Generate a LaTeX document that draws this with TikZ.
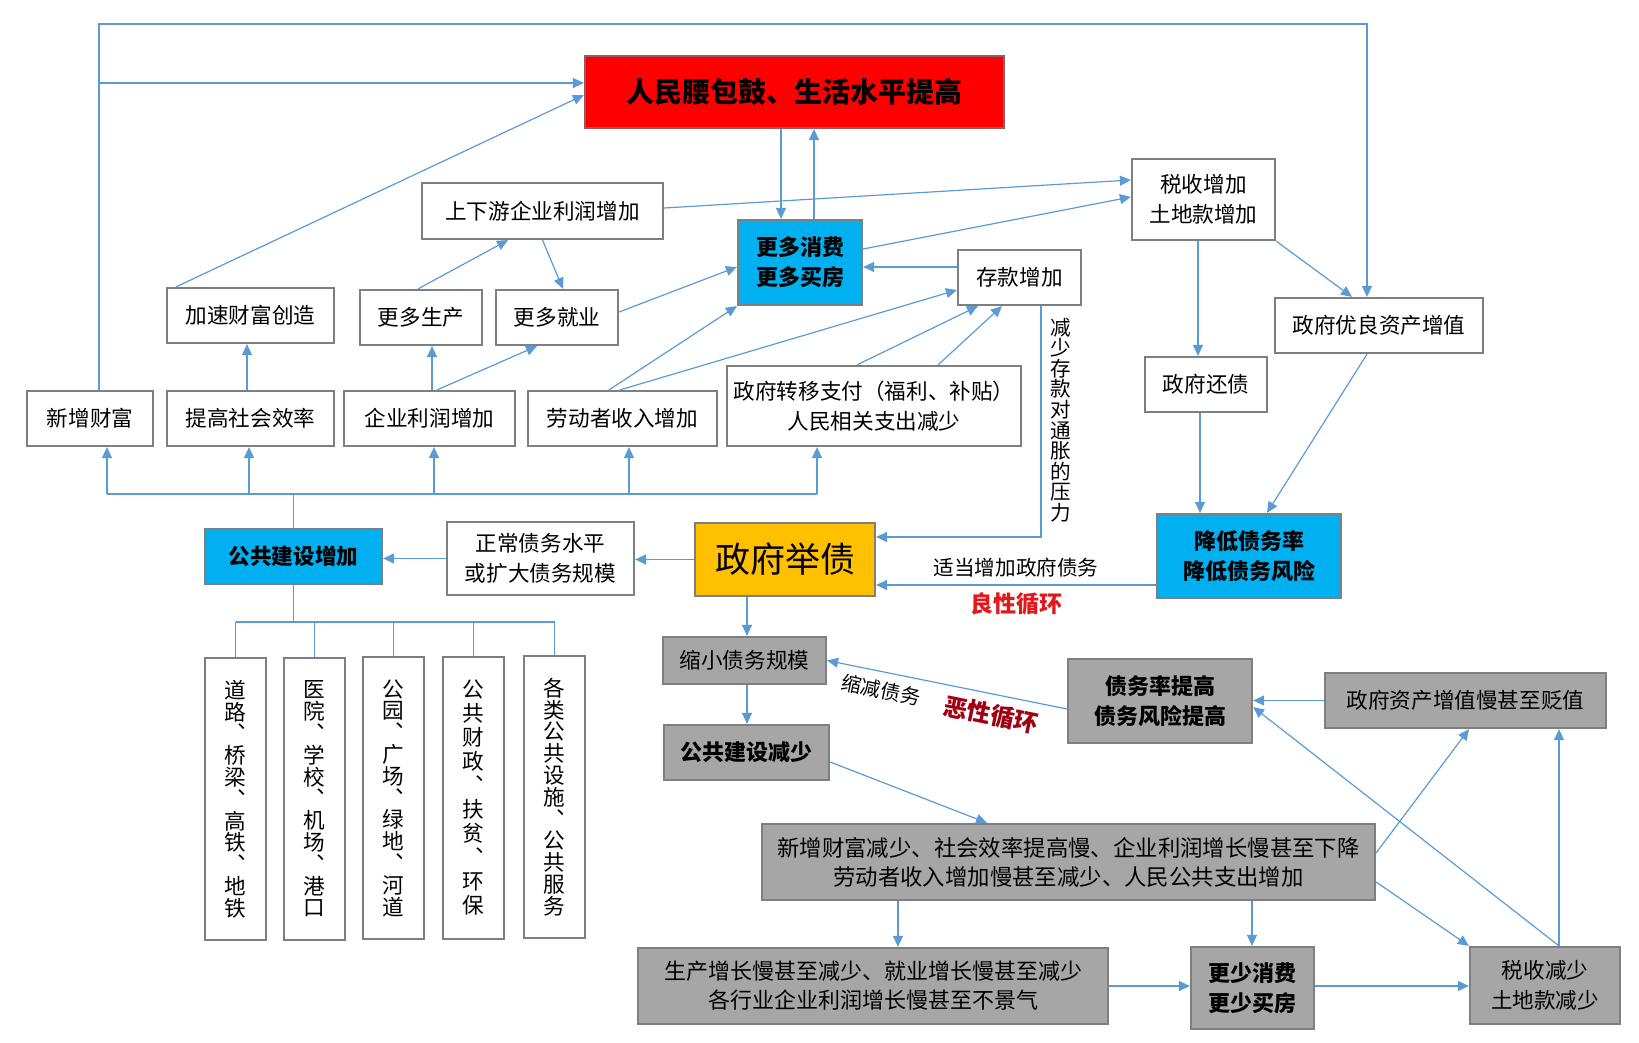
\documentclass[tikz,border=0pt]{standalone}
\usepackage{fontspec}
\newfontfamily\cjk{Noto Sans CJK SC}
\usetikzlibrary{arrows.meta}
\definecolor{rim}{HTML}{7F7F7F}
\definecolor{hotrim}{HTML}{9A5A5A}
\definecolor{flowblue}{HTML}{5B9BD5}
\definecolor{hotred}{HTML}{FF0000}
\definecolor{sky}{HTML}{00B0F0}
\definecolor{amber}{HTML}{FFC000}
\definecolor{ash}{HTML}{A6A6A6}
\definecolor{good}{HTML}{E0191C}
\definecolor{bad}{HTML}{A00012}
\begin{document}
\begin{tikzpicture}[x=0.5pt, y=-0.5pt, font=\cjk\fontsize{10.8}{15}\selectfont,
  box/.style={draw=rim, line width=1.1pt, inner sep=0pt, align=center, minimum height=27.5pt},
  hot/.style={box, fill=hotred, draw=hotrim},
  cool/.style={box, fill=sky},
  gold/.style={box, fill=amber},
  dim/.style={box, fill=ash},
  heavy/.style={font=\cjk\bfseries\fontsize{11}{15}\selectfont},
  tall/.style={box, minimum width=30.5pt, minimum height=141pt, font=\cjk\fontsize{10.8}{10.9}\selectfont},
  flow/.style={draw=flowblue, line width=0.6pt, -{Triangle[length=5.5pt,width=5pt]}},
  wire/.style={draw=flowblue, line width=0.6pt}]
  \useasboundingbox (0,0) rectangle (1639,1043);
  \path node (red)      at (794.5,92)    [hot, minimum width=209.5pt, minimum height=36pt, font=\cjk\bfseries\fontsize{14}{16}\selectfont] {人民腰包鼓、生活水平提高}
        node (shang)    at (542.5,211)   [box, minimum width=120.5pt, minimum height=28pt] {上下游企业利润增加}
        node (more)     at (800,262.5)   [cool, heavy, minimum width=62pt, minimum height=42.5pt] {更多消费\\更多买房}
        node (tax)      at (1203.5,199.5) [box, minimum width=71.5pt, minimum height=40.5pt] {税收增加\\土地款增加}
        node (save)     at (1019.5,277.5) [box, minimum width=61.5pt] {存款增加}
        node (asset)    at (1379,325.5)  [box, minimum width=104pt] {政府优良资产增值}
        node (repay)    at (1206,384.5)  [box, minimum width=61pt] {政府还债};
  \path node (speed)    at (250.5,315.5) [box, minimum width=83.5pt] {加速财富创造}
        node (prod)     at (421,317.5)   [box, minimum width=61pt] {更多生产}
        node (job)      at (557,317.5)   [box, minimum width=61pt] {更多就业}
        node (wealth)   at (90,418.5)    [box, minimum width=63pt] {新增财富}
        node (eff)      at (250.5,418.5) [box, minimum width=83.5pt] {提高社会效率}
        node (profit)   at (429.5,418.5) [box, minimum width=85.5pt] {企业利润增加}
        node (income)   at (622.5,418.5) [box, minimum width=94.5pt] {劳动者收入增加}
        node (transfer) at (874,406)     [box, minimum width=147pt, minimum height=40pt] {政府转移支付（福利、补贴）\\人民相关支出减少}
        node (note)     at (1061,420)    [align=center, inner sep=0pt, font=\cjk\fontsize{10.3}{10.3}\selectfont] {减\\少\\存\\款\\对\\通\\胀\\的\\压\\力};
  \path node (pub)      at (293.5,556.5) [cool, heavy, font=\cjk\bfseries\fontsize{10.8}{15}\selectfont, minimum width=88.5pt] {公共建设增加}
        node (normal)   at (540.5,558.5) [box, minimum width=93.5pt, minimum height=36.5pt] {正常债务水平\\或扩大债务规模}
        node (debt)     at (785,559.5)   [gold, minimum width=90pt, minimum height=36.5pt, font=\cjk\fontsize{17.5}{20}\selectfont] {政府举债}
        node (lower)    at (1249,556)    [cool, heavy, minimum width=92pt, minimum height=42pt] {降低债务率\\降低债务风险}
        node (v1)       at (235.5,799)   [tall] {道\\路\\︑\\桥\\梁\\︑\\高\\铁\\︑\\地\\铁}
        node (v2)       at (314.5,799)   [tall] {医\\院\\︑\\学\\校\\︑\\机\\场\\︑\\港\\口}
        node (v3)       at (393.5,798)   [tall] {公\\园\\︑\\广\\场\\︑\\绿\\地\\︑\\河\\道}
        node (v4)       at (473.5,798)   [tall, font=\cjk\fontsize{10.8}{12}\selectfont] {公\\共\\财\\政\\︑\\扶\\贫\\︑\\环\\保}
        node (v5)       at (554.5,797)   [tall] {各\\类\\公\\共\\设\\施\\︑\\公\\共\\服\\务};
  \path node (shrink)   at (744.5,660.5) [dim, minimum width=81.5pt, minimum height=23.5pt] {缩小债务规模}
        node (less)     at (746.5,752.5) [dim, heavy, minimum width=82.5pt] {公共建设减少}
        node (rise)     at (1160,701)    [dim, heavy, minimum width=92pt, minimum height=42pt] {债务率提高\\债务风险提高}
        node (slow)     at (1465.5,700.5) [dim, minimum width=140.5pt] {政府资产增值慢甚至贬值}
        node (drop)     at (1068.5,862)  [dim, minimum width=306.5pt, minimum height=38pt, font=\cjk\fontsize{11.2}{14.5}\selectfont] {新增财富减少、社会效率提高慢、企业利润增长慢甚至下降\\劳动者收入增加慢甚至减少、人民公共支出增加}
        node (prodless) at (873,986)     [dim, minimum width=235pt, minimum height=38pt, font=\cjk\fontsize{11}{14.5}\selectfont] {生产增长慢甚至减少、就业增长慢甚至减少\\各行业企业利润增长慢甚至不景气}
        node (fewer)    at (1252.5,988)  [dim, heavy, minimum width=61.5pt, minimum height=41pt] {更少消费\\更少买房}
        node (taxless)  at (1545,985.5)  [dim, minimum width=75pt, minimum height=38.5pt] {税收减少\\土地款减少};
  \coordinate (corner) at (99,24);
  \coordinate (branch) at (99,83);
  \coordinate (bus) at (292,494);
  \coordinate (fork) at (292,622);
  \draw[flow] ([xshift=4.5pt]wealth.north) -- (corner) -| ([xshift=-6pt]asset.north);
  \draw[flow] (branch) -- (branch -| red.west);
  \draw[flow] ([xshift=-37.25pt]speed.north) -- ([yshift=-1.5pt]red.west);
  \draw[flow] ([xshift=-9.5pt]more.north |- red.south) -- ([xshift=-9.5pt]more.north);
  \draw[flow] ([xshift=7pt]more.north) -- ([xshift=7pt]more.north |- red.south);
  \draw[flow] ([xshift=-1.5pt]prod.north) -- ([xshift=-17.25pt]shang.south);
  \draw[flow] (shang.south) -- ([xshift=3pt]job.north);
  \draw[flow] ([yshift=1.5pt]shang.east) -- ([yshift=9.75pt]tax.west);
  \draw[flow] ([yshift=2.75pt]job.east) -- ([yshift=-2.25pt]more.west);
  \draw[flow] ([yshift=6.75pt]more.east) -- ([yshift=1.25pt]tax.west);
  \draw[flow] ([yshift=5.25pt]save.west) -- ([yshift=5.25pt]save.west -| more.east);
  \draw[flow] ([xshift=-6.75pt]income.north) -- (more.south west);
  \draw[flow] ([xshift=-1.25pt]income.north) -- ([yshift=-6.25pt]save.west);
  \draw[flow] ([xshift=-8.5pt]transfer.north) -- ([xshift=-20.75pt]save.south);
  \draw[flow] ([xshift=32pt]transfer.north) -- ([xshift=-8.75pt]save.south);
  \draw[flow] ([xshift=10.75pt]save.south) |- ([yshift=11.25pt]debt.east);
  \draw[flow] ([xshift=-2.75pt]tax.south) -- ([xshift=-2.75pt]tax.south |- repay.north);
  \draw[flow] (tax.south east) -- ([xshift=-13.5pt]asset.north);
  \draw[flow] ([xshift=-6pt]asset.south) -- ([xshift=9pt]lower.north);
  \draw[flow] ([xshift=-3pt]repay.south) -- ([xshift=-3pt]repay.south |- lower.north);
  \draw[flow] ([yshift=-14.5pt]lower.west) -- ([yshift=-14.5pt]lower.west -| debt.east)
        node[midway, above, font=\cjk\fontsize{10.3}{12}\selectfont] {适当增加政府债务}
        node[midway, below, text=good, font=\cjk\bfseries\fontsize{11.5}{13}\selectfont] {良性循环};
  \draw[wire] (pub.north) -- (pub.north |- bus)
        ([xshift=8.5pt]wealth.south |- bus) -- ([xshift=-28.5pt]transfer.south |- bus);
  \foreach \n/\s in {wealth/8.5pt, eff/-0.75pt, profit/2.25pt, income/3.25pt, transfer/-28.5pt}
    \draw[flow] ([xshift=\s]\n.south |- bus) -- ([xshift=\s]\n.south);
  \draw[flow] ([xshift=-1.75pt]eff.north) -- ([xshift=-1.75pt]eff.north |- speed.south);
  \draw[flow] ([xshift=1.25pt]profit.north) -- ([xshift=1.25pt]profit.north |- prod.south);
  \draw[flow] ([xshift=3.75pt]profit.north) -- ([xshift=-10pt]job.south);
  \draw[flow] (normal.west) -- (normal.west -| pub.east);
  \draw[flow] (debt.west) -- (debt.west -| normal.east);
  \draw[wire] (pub.south) -- (pub.south |- fork)
        (v1.north |- fork) -- (v5.north |- fork);
  \foreach \i in {1,...,5}
    \draw[wire] (v\i.north |- fork) -- (v\i.north);
  \draw[flow] ([xshift=-19pt]debt.south) -- ([xshift=-19pt]debt.south |- shrink.north);
  \draw[flow] ([xshift=1.25pt]shrink.south) -- ([xshift=1.25pt]shrink.south |- less.north);
  \draw[flow] ([yshift=-4pt]rise.west) -- (shrink.east)
        node[pos=0.30, sloped, below=1pt, text=bad, font=\cjk\bfseries\fontsize{12}{14}\selectfont] {恶性循环}
        node[pos=0.76, sloped, below=1pt, font=\cjk\fontsize{10}{12}\selectfont] {缩减债务};
  \draw[flow] ([yshift=-4.75pt]less.east) -- ([xshift=-40.75pt]drop.north);
  \draw[flow] ([xshift=-85.25pt]drop.south) -- ([xshift=-85.25pt]drop.south |- prodless.north);
  \draw[flow] ([xshift=91.75pt]drop.south) -- ([xshift=91.75pt]drop.south |- fewer.north);
  \draw[flow] ([yshift=4.5pt]drop.east) -- ([xshift=1.75pt]slow.south);
  \draw[flow] ([yshift=-10pt]drop.east) -- (taxless.north west);
  \draw[flow] (prodless.east) -- (prodless.east -| fewer.west);
  \draw[flow] (prodless.east -| fewer.east) -- (prodless.east -| taxless.west);
  \draw[flow] ([xshift=7pt]taxless.north) -- ([xshift=7pt]taxless.north |- slow.south);
  \draw[flow] ([xshift=7pt]taxless.north) -- ([yshift=-3pt]rise.east);
  \draw[flow] (slow.west) -- (slow.west -| rise.east);
\end{tikzpicture}
\end{document}
